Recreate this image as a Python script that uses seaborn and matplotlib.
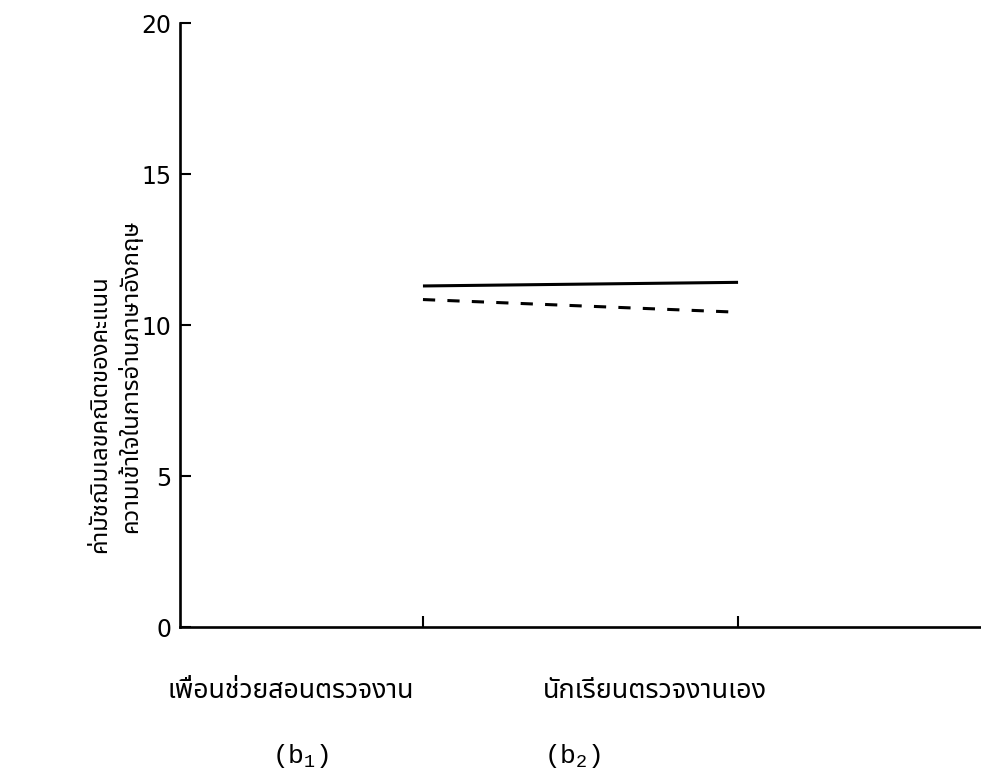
import matplotlib
matplotlib.use("Agg")
import matplotlib.pyplot as plt
from matplotlib import font_manager
from matplotlib.ft2font import FT2Font
import seaborn as sns
import pandas as pd

# ---- data ----
categories = ["เพื่อนช่วยสอนตรวจงาน", "นักเรียนตรวจงานเอง"]
sub_labels = ["(b$_1$)", "(b$_2$)"]
series_names = ["a1", "a2"]
solid_values = [11.30, 11.42]
dashed_values = [10.85, 10.43]
y_ticks = [0, 5, 10, 15, 20]
ylabel_line1 = "ค่ามัชฌิมเลขคณิตของคะแนน"
ylabel_line2 = "ความเข้าใจในการอ่านภาษาอังกฤษ"

# ---- find a font with Thai glyphs ----
names = set()
for f in font_manager.fontManager.ttflist:
    try:
        cm = FT2Font(f.fname).get_charmap()
        if 0x0E01 in cm and 0x0E32 in cm:
            names.add(f.name)
    except Exception:
        pass
pref = ["Tlwg Typewriter", "Tlwg Typo", "TlwgTypewriter", "TlwgTypo", "Tlwg Mono", "TlwgMono",
        "Noto Sans Thai", "Noto Sans Thai UI", "Garuda", "Loma", "Norasi", "Kinnari", "Waree", "Sawasdee"]
thai_family = None
for p in pref:
    if p in names:
        thai_family = p
        break
if thai_family is None and names:
    thai_family = sorted(names)[0]
thai_fonts = [thai_family, "DejaVu Sans"] if thai_family else ["DejaVu Sans"]

sns.set_theme(style="white")
plt.rcParams["font.family"] = ["DejaVu Sans"]
plt.rcParams["mathtext.fontset"] = "custom"
plt.rcParams["mathtext.rm"] = "Liberation Mono"
plt.rcParams["mathtext.it"] = "Liberation Mono"

df = pd.DataFrame({
    "pos": [0, 1, 0, 1],
    "value": solid_values + dashed_values,
    "group": [series_names[0]] * 2 + [series_names[1]] * 2,
})

W, H = 981, 778
fig = plt.figure(figsize=(9.81, 7.78), dpi=100)
ax = fig.add_axes([0.1835, 0.194, 0.8165, 0.776])

sns.lineplot(data=df, x="pos", y="value", hue="group", style="group",
             palette=["black", "black"], dashes=[(1, 0), (4, 4)],
             linewidth=2.2, legend=False, ax=ax)

ax.set_xlim(-0.771, 1.771)
ax.set_ylim(0, 20)
ax.set_yticks(y_ticks)
ax.set_yticklabels([str(v) for v in y_ticks], fontsize=17)
ax.set_xticks([0, 1])
ax.set_xticklabels(["", ""])
ax.tick_params(axis="y", direction="in", length=8, width=1.5, pad=6, left=True, colors="black")
ax.tick_params(axis="x", direction="in", length=8, width=1.5, bottom=True, colors="black")
ax.set_xlabel("")
ax.set_ylabel("")
for s in ["top", "right"]:
    ax.spines[s].set_visible(False)
for s in ["left", "bottom"]:
    ax.spines[s].set_color("black")
    ax.spines[s].set_linewidth(1.9)

renderer = fig.canvas.get_renderer()


def fitted_size(text_obj, target, vertical=False):
    bb = text_obj.get_window_extent(renderer)
    cur = bb.height if vertical else bb.width
    fs = text_obj.get_fontsize()
    return fs * target / cur if cur > 0 else fs


tr = ax.get_xaxis_transform()
label_offsets = [-0.419, -0.263]
label_widths = [263, 238]
sub_offsets = [-0.390, -0.524]
for i, (cat, sub) in enumerate(zip(categories, sub_labels)):
    t = ax.text(i + label_offsets[i], -0.106, cat, transform=tr, ha="center", va="center",
                fontsize=16, family=thai_fonts, color="black")
    t.set_fontsize(0.94 * fitted_size(t, label_widths[i]))
    ax.text(i + sub_offsets[i], -0.213, sub, transform=tr, ha="center", va="center",
            fontsize=19, family="Liberation Mono", color="black")

t1 = fig.text(100 / W, 1 - 414 / H, ylabel_line1, rotation=90, ha="center", va="center",
              fontsize=15, family=thai_fonts, color="black")
t2 = fig.text(131 / W, 1 - 376 / H, ylabel_line2, rotation=90, ha="center", va="center",
              fontsize=15, family=thai_fonts, color="black")
common = 0.5 * (fitted_size(t1, 292, vertical=True) + fitted_size(t2, 297, vertical=True))
t1.set_fontsize(common)
t2.set_fontsize(common)

fig.savefig("out.png", dpi=100)
